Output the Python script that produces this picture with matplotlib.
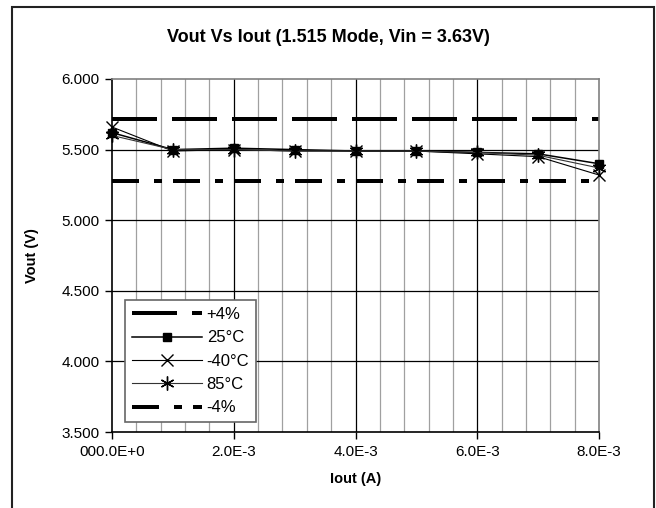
"""Vout vs Iout, 1.515 mode, Vin = 3.63V."""
import numpy as np
import matplotlib
matplotlib.use("Agg")
import matplotlib.pyplot as plt
from matplotlib.patches import Rectangle
from matplotlib.ticker import FixedLocator, FixedFormatter

plt.rcParams["font.family"] = ["Liberation Sans", "DejaVu Sans"]
plt.rcParams["lines.scale_dashes"] = False

iout = [0.0, 1e-3, 2e-3, 3e-3, 4e-3, 5e-3, 6e-3, 7e-3, 8e-3]
v_25 = [5.62, 5.50, 5.51, 5.50, 5.49, 5.49, 5.48, 5.47, 5.40]
v_m40 = [5.66, 5.49, 5.50, 5.49, 5.49, 5.49, 5.47, 5.45, 5.32]
v_85 = [5.60, 5.50, 5.50, 5.49, 5.49, 5.49, 5.48, 5.46, 5.37]
v_nom = 5.5
v_hi = [v_nom * 1.04] * len(iout)
v_lo = [v_nom * 0.96] * len(iout)

y_ticks = [3.5, 4.0, 4.5, 5.0, 5.5, 6.0]
y_labels = ["3.500", "4.000", "4.500", "5.000", "5.500", "6.000"]
x_ticks = [0.0, 2e-3, 4e-3, 6e-3, 8e-3]
x_labels = ["000.0E+0", "2.0E-3", "4.0E-3", "6.0E-3", "8.0E-3"]

W, H = 656, 508
fig = plt.figure(figsize=(W / 100, H / 100), dpi=100)
ax = fig.add_axes([112 / W, 1 - 432 / H, 487 / W, 353 / H])

# grid: minor vertical every 0.4E-3 (gray), major every 2E-3 (black)
for xv in np.arange(1, 20) * 0.4e-3:
    major = abs(xv / 2e-3 - round(xv / 2e-3)) < 1e-6
    ax.axvline(xv, color="black" if major else "#a0a0a0", lw=0.9, zorder=0)
for yv in [4.0, 4.5, 5.0, 5.5]:
    ax.axhline(yv, color="black", lw=0.9, zorder=0)

px = 72 / 100
ax.plot(iout, v_hi, color="black", lw=4 * px,
        dashes=(45 * px, 15 * px), label="+4%", dash_capstyle="butt")
ax.plot(iout, v_25, color="black", lw=1.1, marker="s", ms=5.5, label="25°C",
        clip_on=False, zorder=4)
ax.plot(iout, v_m40, color="black", lw=0.8, marker="x", ms=9, mew=1.0,
        label="-40°C", clip_on=False, zorder=4)
ax.plot(iout, v_85, color="#333333", lw=0.8, marker=(6, 2, 0), ms=10,
        mew=1.0, mec="black", label="85°C", clip_on=False, zorder=4)
ax.plot(iout, v_lo, color="black", lw=4 * px,
        dashes=(27 * px, 15 * px, 8 * px, 11 * px),
        label="-4%", dash_capstyle="butt")

ax.set_xlim(0, 8e-3)
ax.set_ylim(3.5, 6.0)
ax.yaxis.set_major_locator(FixedLocator(y_ticks))
ax.yaxis.set_major_formatter(FixedFormatter(y_labels))
ax.xaxis.set_major_locator(FixedLocator(x_ticks))
ax.xaxis.set_major_formatter(FixedFormatter(x_labels))
ax.tick_params(direction="out", length=5, width=1, labelsize=11, pad=4)

for side in ["left", "bottom"]:
    ax.spines[side].set_color("black")
    ax.spines[side].set_linewidth(1.2)
for side in ["top", "right"]:
    ax.spines[side].set_color("#808080")
    ax.spines[side].set_linewidth(1.2)

ax.set_xlabel("Iout (A)", fontsize=10.5, fontweight="bold", labelpad=10)
ax.set_ylabel("Vout (V)", fontsize=10.5, fontweight="bold", labelpad=16)
fig.text(328 / W, 1 - 37 / H, "Vout Vs Iout (1.515 Mode, Vin = 3.63V)",
         ha="center", va="center", fontsize=13, fontweight="bold")

leg = ax.legend(loc="lower left", bbox_to_anchor=(13 / 487, 10 / 353),
                borderaxespad=0, fontsize=12, handlelength=4.2,
                labelspacing=0.5, handletextpad=0.3, borderpad=0.4,
                fancybox=False, framealpha=1, edgecolor="#666666")
leg.get_frame().set_linewidth(1.2)

# outer chart border
fig.patches.append(Rectangle((12 / W, -0.05), 642 / W, 1.05 - 7 / H,
                             transform=fig.transFigure, fill=False,
                             edgecolor="#222222", lw=1.5))

fig.savefig("out.png", dpi=100)
